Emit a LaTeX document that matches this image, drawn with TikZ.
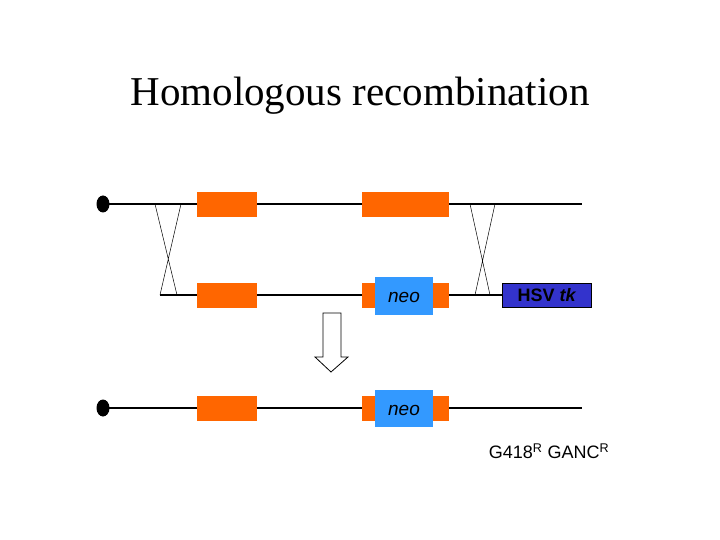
\documentclass[tikz,border=0pt]{standalone}
\usepackage{fontspec}
\setmainfont{Liberation Serif}
\newfontfamily\arialf{Liberation Sans}
\begin{document}
\begin{tikzpicture}[x=1pt,y=-1pt,
 ob/.style={fill=orange!90!red, fill={rgb,255:red,255;green,102;blue,0}, draw=none},
 bb/.style={fill={rgb,255:red,51;green,153;blue,255}, draw=none},
 dna/.style={line width=2.2pt},
 xl/.style={line width=0.5pt},
 lbl/.style={font=\arialf\itshape\fontsize{19}{19}\selectfont, inner sep=0pt}]
\useasboundingbox (0,0) rectangle (720,540);
\node[font=\fontsize{41}{41}\selectfont] (title) at (360,96) {Homologous recombination};
% top
\draw[dna] (103,204) -- (582,204);
\fill (103,204) ellipse (6.5 and 8.5);
\fill[ob] (197,192) rectangle (257,217);
\fill[ob] (362,192) rectangle (449,217);
% middle
\draw[dna] (160,295) -- (502,295);
\fill[ob] (197,283) rectangle (257,308);
\fill[ob] (362,283) rectangle (449,308);
\fill[bb] (375,277) rectangle (433,315);
\node[lbl] (neo1) at (404,297) {neo};
\node[draw=black, line width=0.8pt, fill={rgb,255:red,51;green,51;blue,204}, minimum width=89pt, minimum height=24pt, inner sep=0pt, font=\arialf\bfseries\fontsize{18}{18}\selectfont] (hsv) at (547,295) {HSV \textit{tk}};
% crosses
\draw[xl] (155,204) -- (177,295) (181,204) -- (160,295);
\draw[xl] (470,204) -- (490,295) (495,204) -- (475,295);
% arrow
\draw[line width=0.8pt, fill=white] (323,313) -- (341,313) -- (341,357) -- (348,357) -- (331,372) -- (315,357) -- (323,357) -- cycle;
% bottom
\draw[dna] (103,408) -- (582,408);
\fill (103,408) ellipse (6.5 and 8.5);
\fill[ob] (197,396) rectangle (257,421);
\fill[ob] (362,396) rectangle (449,421);
\fill[bb] (375,390) rectangle (433,427);
\node[lbl] (neo2) at (404,410) {neo};
\node[font=\arialf\fontsize{18}{18}\selectfont, inner sep=0pt] (res) at (549,451) {G418\textsuperscript{R} GANC\textsuperscript{R}};
\end{tikzpicture}
\end{document}
